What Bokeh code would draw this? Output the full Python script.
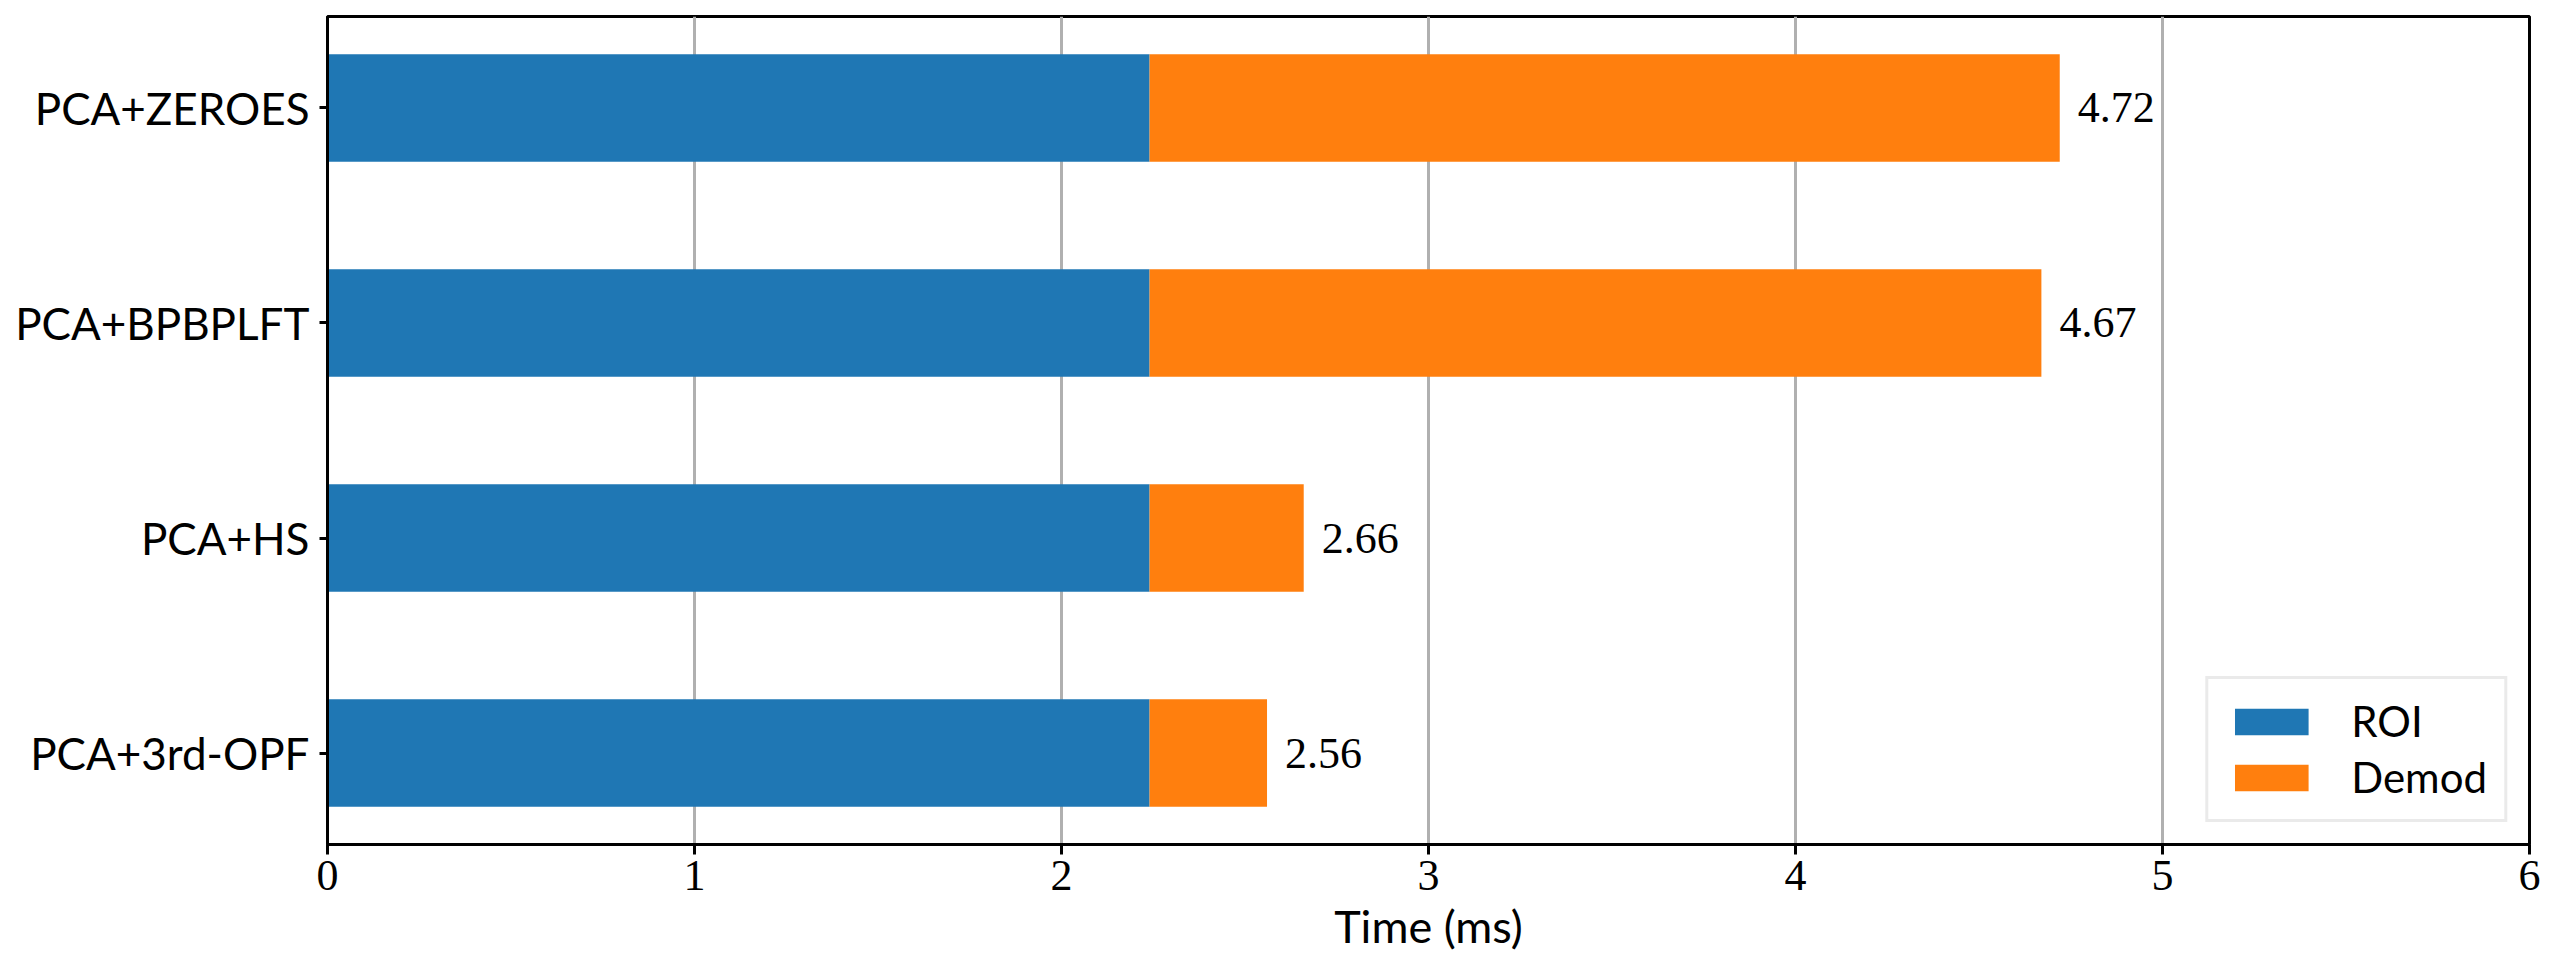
from bokeh.plotting import figure
from bokeh.models import Range1d, FixedTicker, ColumnDataSource, Legend, LegendItem
from bokeh.core.properties import value
from bokeh.embed import file_html
from bokeh.resources import INLINE

# Data (bottom to top, as in the original)
categories = ["PCA+3rd-OPF", "PCA+HS", "PCA+BPBPLFT", "PCA+ZEROES"]
roi = [2.24, 2.24, 2.24, 2.24]
totals = [2.56, 2.66, 4.67, 4.72]
demod = [round(t - r, 2) for t, r in zip(totals, roi)]
x_ticks = [0, 1, 2, 3, 4, 5, 6]

ypos = list(range(len(categories)))
src = ColumnDataSource(dict(
    y=ypos, roi=roi, demod=demod, total=totals,
    label=["%.2f" % t for t in totals],
))

SANS = "Lato"
SERIF = "Liberation Serif"

p = figure(
    output_backend="svg", toolbar_location=None,
    frame_width=2202, frame_height=828,
    min_border_left=327, min_border_top=16, min_border_right=26, min_border_bottom=100,
    x_range=Range1d(0, 6), y_range=Range1d(-0.425, 3.425),
)

r1 = p.hbar(y="y", left=0, right="roi", height=0.5, source=src,
            fill_color="#1f77b4", line_color=None)
r2 = p.hbar(y="y", left="roi", right="total", height=0.5, source=src,
            fill_color="#ff7f0e", line_color=None)

p.text(x="total", y="y", text="label", source=src, x_offset=18,
       text_baseline="middle", text_align="left",
       text_font=value(SERIF), text_font_size="44px", text_color="black")

# axes
p.xaxis.ticker = FixedTicker(ticks=x_ticks)
p.yaxis.ticker = FixedTicker(ticks=ypos)
p.yaxis.major_label_overrides = {i: c for i, c in enumerate(categories)}
p.xaxis.axis_label = "Time (ms)"

for ax in (p.xaxis, p.yaxis):
    ax.axis_line_width = 3
    ax.axis_line_color = "black"
    ax.major_tick_line_width = 3
    ax.major_tick_line_color = "black"
    ax.major_tick_in = 0
    ax.minor_tick_line_color = None
    ax.major_label_text_color = "black"
    ax.axis_label_text_color = "black"

p.xaxis.major_tick_out = 10
p.yaxis.major_tick_out = 8
p.xaxis.major_label_text_font = SERIF
p.xaxis.major_label_text_font_size = "44px"
p.xaxis.major_label_standoff = 6
p.yaxis.major_label_text_font = SANS
p.yaxis.major_label_text_font_size = "44px"
p.yaxis.major_label_standoff = 10
p.xaxis.axis_label_text_font = SANS
p.xaxis.axis_label_text_font_size = "45px"
p.xaxis.axis_label_text_font_style = "normal"
p.xaxis.axis_label_standoff = 6

p.xgrid.grid_line_color = "#b0b0b0"
p.xgrid.grid_line_width = 3
p.ygrid.grid_line_color = None

p.outline_line_color = "black"
p.outline_line_width = 3
p.outline_line_alpha = 1.0

legend = Legend(items=[LegendItem(label="ROI", renderers=[r1]),
                       LegendItem(label="Demod", renderers=[r2])],
                location="bottom_right")
legend.margin = 22
legend.padding = 17
legend.glyph_width = 92
legend.glyph_height = 33
legend.label_standoff = 34
legend.label_text_font = SANS
legend.label_text_font_size = "42px"
legend.label_text_color = "black"
legend.label_height = 33
legend.spacing = 6
legend.border_line_color = "#d6d6d6"
legend.border_line_width = 3
legend.background_fill_alpha = 0.8
p.add_layout(legend)

open("out.html", "w").write(file_html(p, INLINE))
